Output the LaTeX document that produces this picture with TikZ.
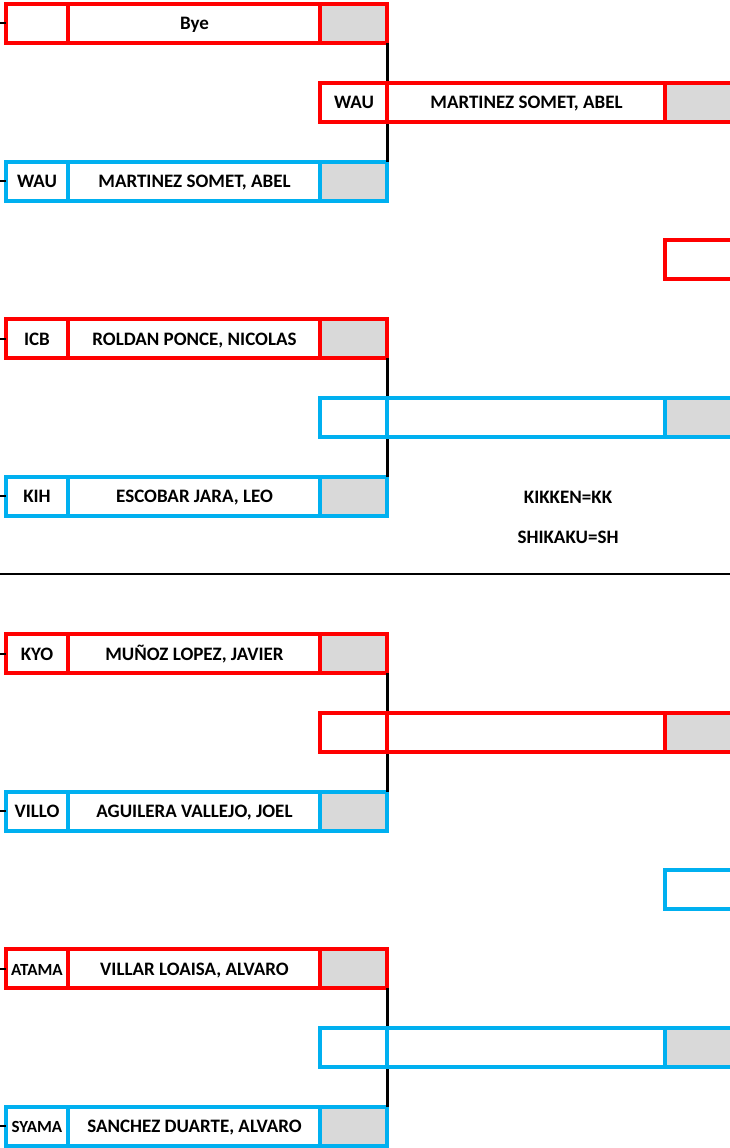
\documentclass[tikz,border=0pt]{standalone}
\usepackage{fontspec}
\setmainfont{Carlito}
\definecolor{rd}{HTML}{FF0000}
\definecolor{bl}{HTML}{00B0F0}
\definecolor{gr}{HTML}{D9D9D9}
\tikzset{
  boxframe/.style={draw=#1, line width=4pt, minimum height=39pt, inner sep=0pt, outer sep=0pt},
  cellline/.style={draw=#1, line width=4pt},
  tick/.style={draw=black, line width=2pt},
  joinline/.style={draw=black, line width=3pt},
  txt/.style={inner sep=0pt, anchor=base, font=\fontsize{19}{22}\selectfont\bfseries},
}
\newcommand\lbox[5]{%
  \fill[gr] (320,#3-19.5) rectangle (387,#3+19.5);
  \node[boxframe=#2, minimum width=381pt] (#1) at (196.5,#3) {};
  \draw[cellline=#2] (68,#3-19.5) -- (68,#3+19.5) (320,#3-19.5) -- (320,#3+19.5);
  \node[txt] (#1c) at (37,#3+6.5) {#4};
  \node[txt] (#1n) at (194.5,#3+6.5) {#5};
  \coordinate (#1t) at (0,#3);
  \draw[tick] (#1t) -- (#1.west);
}
\newcommand\rbox[5]{%
  \fill[gr] (665,#3-19.5) rectangle (760,#3+19.5);
  \node[boxframe=#2, minimum width=440pt] (#1) at (540,#3) {};
  \draw[cellline=#2] (387,#3-19.5) -- (387,#3+19.5) (665,#3-19.5) -- (665,#3+19.5);
  \node[txt] (#1c) at (354,#3+6.5) {#4};
  \node[txt] (#1n) at (526.5,#3+6.5) {#5};
}
\newcommand\tbox[3]{%
  \node[boxframe=#2, minimum width=95pt] (#1) at (712.5,#3) {};
}
\begin{document}
\begin{tikzpicture}[x=1pt,y=-1pt]
\useasboundingbox (0,0) rectangle (730,1148);
\clip (0,0) rectangle (730,1148);
% upper half
\lbox{p0}{rd}{23.5}{}{Bye}
\lbox{p2}{bl}{181}{WAU}{MARTINEZ SOMET, ABEL}
\lbox{p4}{rd}{338.5}{ICB}{ROLDAN PONCE, NICOLAS}
\lbox{p6}{bl}{496}{KIH}{ESCOBAR JARA, LEO}
\draw[joinline] (p0.south east) -- (p2.north east);
\draw[joinline] (p4.south east) -- (p6.north east);
\rbox{r1}{rd}{102.25}{WAU}{MARTINEZ SOMET, ABEL}
\rbox{r5}{bl}{417.25}{}{}
\tbox{t3}{rd}{259.75}
\node[txt] (kk) at (568,503.5) {KIKKEN=KK};
\node[txt] (sh) at (568,543.5) {SHIKAKU=SH};
% separator
\coordinate (sepL) at (0,574);
\coordinate (sepR) at (730,574);
\draw[line width=1.5pt] (sepL) -- (sepR);
% lower half
\lbox{p8}{rd}{653.5}{KYO}{MUÑOZ LOPEZ, JAVIER}
\lbox{p10}{bl}{811}{VILLO}{AGUILERA VALLEJO, JOEL}
\lbox{p12}{rd}{968.5}{{\fontsize{17}{19}\selectfont ATAMA}}{VILLAR LOAISA, ALVARO}
\lbox{p14}{bl}{1126}{{\fontsize{17}{19}\selectfont SYAMA}}{SANCHEZ DUARTE, ALVARO}
\draw[joinline] (p8.south east) -- (p10.north east);
\draw[joinline] (p12.south east) -- (p14.north east);
\rbox{r9}{rd}{732.25}{}{}
\rbox{r13}{bl}{1047.25}{}{}
\tbox{t11}{bl}{889.75}
\end{tikzpicture}
\end{document}
